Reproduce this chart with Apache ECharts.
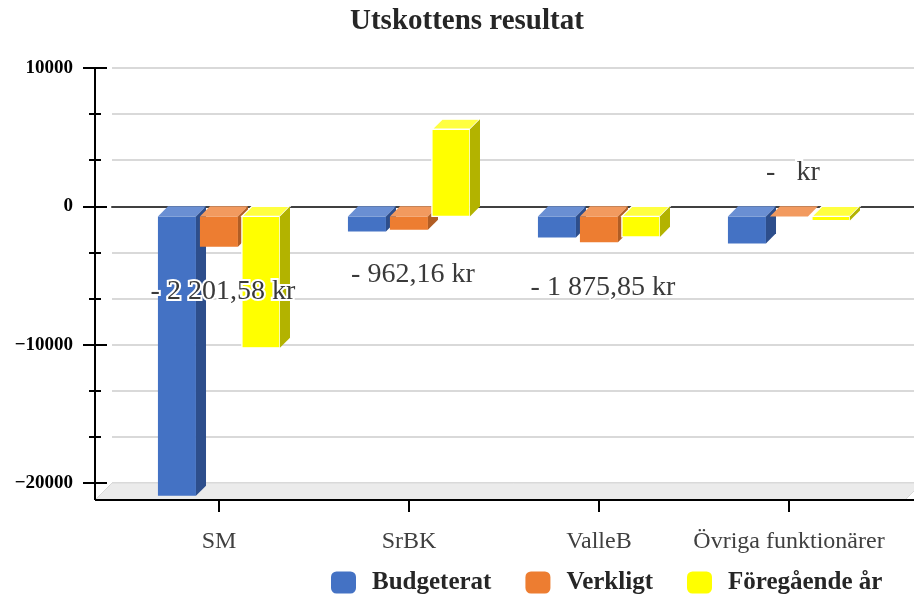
<!DOCTYPE html>
<html><head><meta charset="utf-8">
<script src="https://cdn.jsdelivr.net/npm/echarts@6/dist/echarts.min.js"></script>
<style>html,body{margin:0;padding:0;background:#fff}#c{width:914px;height:601px}</style>
</head><body><div id="c"></div>
<script>
const categories = ['SM', 'SrBK', 'ValleB', 'Övriga funktionärer'];
const seriesNames = ['Budgeterat', 'Verkligt', 'Föregående år'];
const budgeterat = [-20200, -1100, -1520, -1950];
const verkligt = [-2201.58, -962.16, -1875.85, 0];
const foregaende = [-9500, 6300, -1480, -300];
const yMin = -20000, yMax = 10000, yStep = 10000;

const FONT = "'Liberation Serif', 'Times New Roman', serif";
const palette = [
  { front: '#4472C4', top: '#6a8fd3', side: '#2d4e8c', stroke: null },
  { front: '#ED7D31', top: '#f29a5f', side: '#b15d24', stroke: null },
  { front: '#FFFF00', top: '#ffff40', side: '#b3b300', stroke: '#ffffff' }
];

function fmtKr(v) {
  if (v === 0) return '-   kr';
  const a = Math.abs(v).toFixed(2).split('.');
  const int = a[0].replace(/\B(?=(\d{3})+(?!\d))/g, ' ');
  return (v < 0 ? '- ' : '') + int + ',' + a[1] + ' kr';
}

function faceStyle(fill, stroke) {
  const s = { fill: fill };
  if (stroke) { s.stroke = stroke; s.lineWidth = 1.3; }
  return s;
}

function barRenderer(idx) {
  return function (params, api) {
    const cat = api.value(0), val = api.value(1);
    const band = api.size([1, 0])[0];
    const w = band * 0.2, gap = band * 0.021, d = band * 0.053;
    const groupW = 3 * w + 2 * gap;
    const p0 = api.coord([cat, 0]), pv = api.coord([cat, val]);
    const yTop = Math.min(p0[1], pv[1]), yBot = Math.max(p0[1], pv[1]);
    const fl = p0[0] - d - groupW / 2 + idx * (w + gap);
    const c = palette[idx];
    return {
      type: 'group', children: [
        { type: 'rect', shape: { x: fl, y: yTop + d, width: w, height: yBot - yTop }, style: faceStyle(c.front, c.stroke) },
        { type: 'polygon', shape: { points: [[fl, yTop + d], [fl + w, yTop + d], [fl + w + d, yTop], [fl + d, yTop]] }, style: faceStyle(c.top, c.stroke) },
        { type: 'polygon', shape: { points: [[fl + w, yTop + d], [fl + w + d, yTop], [fl + w + d, yBot], [fl + w, yBot + d]] }, style: faceStyle(c.side, null) }
      ]
    };
  };
}

function labelRenderer(params, api) {
  const cat = api.value(0), val = api.value(1);
  const band = api.size([1, 0])[0];
  const d = band * 0.053;
  const p0 = api.coord([cat, 0]), pv = api.coord([cat, val]);
  const y = val < 0 ? pv[1] + 55 : p0[1] - 34;
  return {
    type: 'text', x: p0[0] - d + 4, y: y,
    style: { text: fmtKr(val), align: 'center', verticalAlign: 'middle', fontSize: 28, fontFamily: FONT, fill: '#3a3a3a', stroke: '#ffffff', lineWidth: 4 }
  };
}

function decorRenderer(params, api) {
  const cs = params.coordSys;
  const x = cs.x, y = cs.y + cs.height, w = cs.width, dp = 17;
  return {
    type: 'group', children: [
      { type: 'polygon', shape: { points: [[x, y], [x + w + 8, y], [x + w + 8 - dp, y + dp], [x - dp, y + dp]] }, style: { fill: '#ebebeb', stroke: '#d9d9d9', lineWidth: 1 } },
      { type: 'line', shape: { x1: x - dp, y1: y + dp, x2: x + w, y2: y + dp }, style: { stroke: '#000', lineWidth: 2 } },
      { type: 'line', shape: { x1: x - dp, y1: y - 1, x2: x - dp, y2: y + dp }, style: { stroke: '#000', lineWidth: 2 } }
    ]
  };
}

const seriesData = [budgeterat, verkligt, foregaende];
const toData = arr => categories.map((c, i) => [i, arr[i]]);

const chart = echarts.init(document.getElementById('c'), null, { renderer: 'canvas' });
chart.setOption({
  animation: false,
  backgroundColor: '#ffffff',
  title: {
    text: 'Utskottens resultat', left: 345, top: 2,
    textStyle: { fontFamily: FONT, fontSize: 29, fontWeight: 'bold', color: '#262626' }
  },
  legend: {
    data: seriesNames.map(n => ({ name: n, icon: 'roundRect' })),
    left: 331, top: 570, padding: 0, itemWidth: 25, itemHeight: 22, itemGap: 34,
    textStyle: { fontFamily: FONT, fontSize: 25, fontWeight: 'bold', color: '#262626', padding: [0, 0, 0, 11] }
  },
  grid: [
    { left: 112, right: 0, top: 68, bottom: 118 },
    { left: 134, right: 20, top: 68, bottom: 118 },
    { left: 124, right: 30, top: 68, bottom: 101 }
  ],
  xAxis: [
    { gridIndex: 0, type: 'value', min: 0, max: 1, axisLine: { show: true, onZero: true, lineStyle: { color: '#404040', width: 2 } }, axisTick: { show: false }, axisLabel: { show: false }, splitLine: { show: false } },
    { gridIndex: 1, type: 'category', data: categories, show: false },
    { gridIndex: 2, type: 'category', data: categories, position: 'bottom', axisLine: { show: false },
      axisTick: { show: true, interval: 0, alignWithLabel: true, length: 12, lineStyle: { color: '#000', width: 2 } },
      axisLabel: { interval: 0, margin: 30, fontFamily: FONT, fontSize: 24, color: '#404040' } },
    { gridIndex: 2, type: 'category', data: categories, position: 'bottom', axisLine: { show: false },
      axisTick: { show: true, interval: 0, inside: true, alignWithLabel: true, length: 12, lineStyle: { color: '#000', width: 2 } },
      axisLabel: { show: false } }
  ],
  yAxis: [
    { gridIndex: 0, type: 'value', min: yMin, max: yMax, interval: yStep, position: 'left', offset: 17,
      axisLine: { show: true, onZero: false, lineStyle: { color: '#000', width: 2 } },
      axisTick: { show: true, length: 12, lineStyle: { color: '#000', width: 2 } },
      minorTick: { show: true, splitNumber: 3, length: 6, lineStyle: { color: '#000', width: 2 } },
      splitLine: { show: true, lineStyle: { color: '#d9d9d9', width: 2 } },
      minorSplitLine: { show: true, lineStyle: { color: '#d9d9d9', width: 2 } },
      axisLabel: { margin: 22, fontFamily: FONT, fontSize: 19, fontWeight: 'bold', color: '#000',
        formatter: v => v < 0 ? '\u2212' + Math.abs(v) : String(v) } },
    { gridIndex: 0, type: 'value', min: yMin, max: yMax, interval: yStep, position: 'left', offset: 17,
      axisLine: { show: false, onZero: false },
      axisTick: { show: true, inside: true, length: 12, lineStyle: { color: '#000', width: 2 } },
      minorTick: { show: true, splitNumber: 3, length: 6, lineStyle: { color: '#000', width: 2 } },
      splitLine: { show: false }, axisLabel: { show: false } },
    { gridIndex: 1, type: 'value', min: yMin, max: yMax, interval: yStep, show: false },
    { gridIndex: 2, type: 'value', show: false }
  ],
  series: [
    { type: 'custom', name: 'decor', xAxisIndex: 0, yAxisIndex: 0, data: [[0.5, 0]], renderItem: decorRenderer, silent: true, z: 1 },
  ].concat(seriesNames.map((n, i) => ({
    type: 'custom', name: n, xAxisIndex: 1, yAxisIndex: 2,
    itemStyle: { color: palette[i].front },
    encode: { x: 0, y: 1 },
    data: toData(seriesData[i]),
    renderItem: barRenderer(i), z: 3 + i
  }))).concat([
    { type: 'custom', name: 'labels', xAxisIndex: 1, yAxisIndex: 2, encode: { x: 0, y: 1 },
      data: toData(verkligt), renderItem: labelRenderer, z: 10, silent: true }
  ])
});
</script>
</body></html>
